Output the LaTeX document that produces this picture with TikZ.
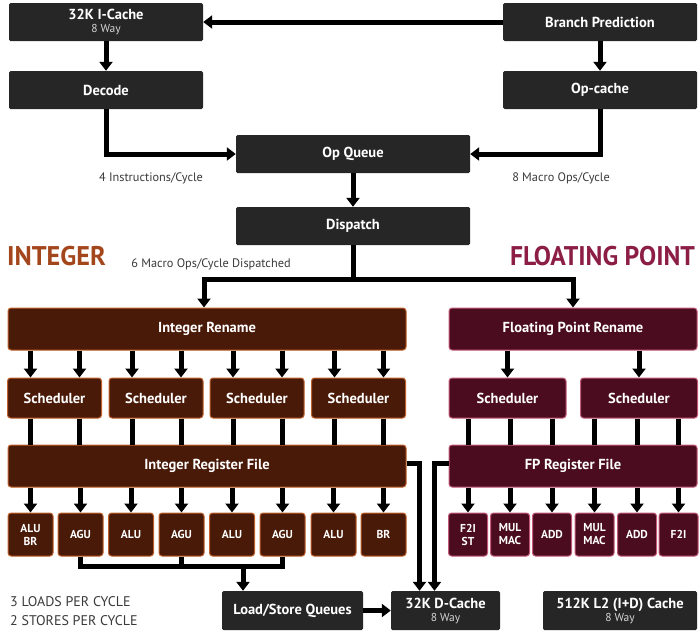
\documentclass[tikz,border=0pt]{standalone}
\usepackage{fontspec}
\usepackage{graphicx}
\setmainfont{PT Sans}
\usetikzlibrary{arrows.meta}
\definecolor{boxgray}{HTML}{262626}
\definecolor{intfill}{HTML}{4A1A08}
\definecolor{intedge}{HTML}{C0602A}
\definecolor{fpfill}{HTML}{4A0C1E}
\definecolor{fpedge}{HTML}{C45A78}
\definecolor{inttext}{HTML}{A4461C}
\definecolor{fptext}{HTML}{8C1E46}
\definecolor{notegray}{HTML}{3A3A3A}
\newcommand\waytext[1]{{\mdseries\fontsize{11.5}{12}\selectfont\color[HTML]{D4D4D4}#1}}

\begin{document}
\begin{tikzpicture}[x=1pt,y=-1pt,
  blk/.style={fill=boxgray, text=white, font=\bfseries\fontsize{14.5}{15}\selectfont,
    rounded corners=1.5pt, minimum height=38pt, inner sep=0pt, align=center},
  intbox/.style={fill=intfill, draw=intedge, line width=1pt, text=white,
    font=\bfseries\fontsize{14.5}{15}\selectfont, rounded corners=3pt, inner sep=0pt, align=center},
  fpbox/.style={intbox, fill=fpfill, draw=fpedge},
  unit/.style={font=\bfseries\fontsize{11.5}{13}\selectfont, minimum height=43pt},
  arr/.style={line width=5pt, -{Triangle[width=13pt,length=9pt]}},
  bus/.style={line width=5pt},
  note/.style={text=notegray, font=\fontsize{12.3}{13}\selectfont, inner sep=0pt}]
\useasboundingbox (0,0) rectangle (700,641);

% front end
\node[blk, minimum width=194pt] (icache) at (106,22) {32K I-Cache\\[-2pt]\waytext{8 Way}};
\node[blk, minimum width=194pt] (bp) at (600,22) {Branch Prediction};
\node[blk, minimum width=194pt] (decode) at (106,90) {Decode};
\node[blk, minimum width=194pt] (opcache) at (600,90) {Op-cache};
\node[blk, minimum width=234pt] (opq) at (353,154) {Op Queue};
\node[blk, minimum width=234pt] (dispatch) at (353,226) {Dispatch};

\node[note] (n4) at (151,178) {4 Instructions/Cycle};
\node[note] (n8) at (561,178) {8 Macro Ops/Cycle};
\node[note] (n6) at (211,264) {6 Macro Ops/Cycle Dispatched};

\node[text=inttext, font=\bfseries\fontsize{27}{28}\selectfont, inner sep=0pt] (inttitle) at (56.5,256) {\scalebox{0.97}[1]{INTEGER}};
\node[text=fptext, font=\bfseries\fontsize{27}{28}\selectfont, inner sep=0pt] (fptitle) at (602.5,256) {\scalebox{0.95}[1]{FLOATING POINT}};

\draw[arr] (bp.west) -- (icache.east);
\draw[arr] (icache.south) -- (decode.north);
\draw[arr] (bp.south) -- (opcache.north);
\draw[arr] (decode.south) |- (opq.west);
\draw[arr] (opcache.south) |- (opq.east);
\draw[arr] (opq.south) -- (dispatch.north);

\coordinate (fork) at (353,279);
\draw[bus] (dispatch.south) -- (fork);

% integer side
\node[intbox, minimum width=398pt, minimum height=42pt] (irename) at (207,329) {Integer Rename};
\node[intbox, minimum width=398pt, minimum height=42pt] (irf) at (207,466) {Integer Register File};
\foreach \i/\x in {1/54.5, 2/156, 3/257, 4/358.5} {
  \node[intbox, minimum width=94pt, minimum height=40pt] (isch\i) at (\x,398) {Scheduler};
  \draw[arr] ([xshift=-24pt]isch\i.north |- irename.south) -- ([xshift=-24pt]isch\i.north);
  \draw[arr] ([xshift=25pt]isch\i.north |- irename.south) -- ([xshift=25pt]isch\i.north);
  \draw[bus] ([xshift=-24pt]isch\i.south) -- ([xshift=-24pt]isch\i.south |- irf.north);
  \draw[bus] ([xshift=25pt]isch\i.south) -- ([xshift=25pt]isch\i.south |- irf.north);
}
\foreach \i/\x/\t in {1/30.5/ALU\\BR, 2/80.5/AGU, 3/131/ALU, 4/181.5/AGU,
                      5/232/ALU, 6/282.5/AGU, 7/333.5/ALU, 8/383.5/BR} {
  \node[intbox, unit, minimum width=45pt] (iu\i) at (\x,534.5) {\t};
  \draw[arr] (iu\i.north |- irf.south) -- (iu\i.north);
}
\draw[arr] (fork) -| ([xshift=-3pt]irename.north);

% floating point side
\node[fpbox, minimum width=248pt, minimum height=42pt] (frename) at (573,329) {Floating Point Rename};
\node[fpbox, minimum width=248pt, minimum height=42pt] (frf) at (573,466) {FP Register File};
\node[fpbox, minimum width=117pt, minimum height=40pt] (fsch1) at (507.5,398) {Scheduler};
\node[fpbox, minimum width=117pt, minimum height=40pt] (fsch2) at (639,398) {Scheduler};
\draw[arr] (fsch1.north |- frename.south) -- (fsch1.north);
\draw[arr] (fsch2.north |- frename.south) -- (fsch2.north);
\foreach \i/\x/\t in {1/468/F2I\\ST, 2/510/MUL\\MAC, 3/552/ADD,
                      4/594.5/MUL\\MAC, 5/637/ADD, 6/678.5/F2I} {
  \node[fpbox, unit, minimum width=39pt] (fu\i) at (\x,534.5) {\t};
  \draw[bus] (fu\i.north |- fsch1.south) -- (fu\i.north |- frf.north);
  \draw[arr] (fu\i.north |- frf.south) -- (fu\i.north);
}
\draw[arr] (fork) -| (frename.north);

% memory
\node[blk, minimum width=141pt, minimum height=39pt] (lsq) at (292.5,610.5) {Load/Store Queues};
\node[blk, minimum width=109pt, minimum height=39pt] (dcache) at (445.5,610.5) {32K D-Cache\\[-2pt]\waytext{8 Way}};
\node[blk, minimum width=154pt, minimum height=39pt] (l2) at (620,610.5) {512K L2 (I+D) Cache\\[-2pt]\waytext{8 Way}};

\node[text=notegray, font=\fontsize{14}{19}\selectfont, align=left, anchor=west, inner sep=0pt] (ldst) at (10,611) {3 LOADS PER CYCLE\\2 STORES PER CYCLE};

\coordinate (agu) at (243,566);
\draw[bus] (iu2.south) -- (iu2.south |- agu) -- (iu6.south |- agu) -- (iu6.south);
\draw[bus] (iu4.south) -- (iu4.south |- agu);
\draw[arr] (agu) -- (agu |- lsq.north);
\draw[arr] (lsq.east) -- (dcache.west);
\draw[arr] ([yshift=3pt]irf.east) -| ([xshift=-26pt]dcache.north);
\draw[arr] ([yshift=3pt]frf.west) -| ([xshift=-11pt]dcache.north);
\end{tikzpicture}
\end{document}
